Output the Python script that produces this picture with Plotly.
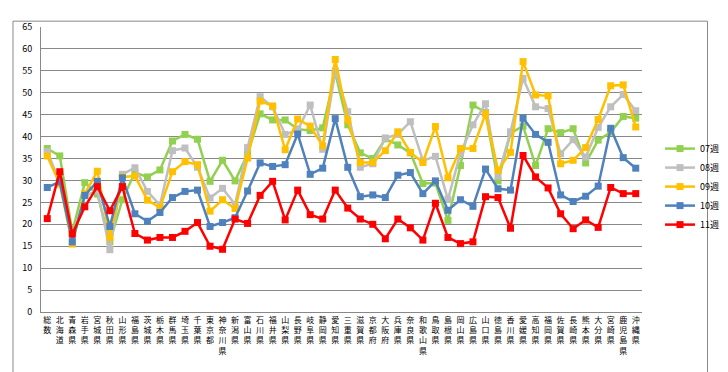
import plotly.graph_objects as go

categories = ["総数","北海道","青森県","岩手県","宮城県","秋田県","山形県","福島県","茨城県","栃木県",
              "群馬県","埼玉県","千葉県","東京都","神奈川県","新潟県","富山県","石川県","福井県","山梨県",
              "長野県","岐阜県","静岡県","愛知県","三重県","滋賀県","京都府","大阪府","兵庫県","奈良県",
              "和歌山県","鳥取県","島根県","岡山県","広島県","山口県","徳島県","香川県","愛媛県","高知県",
              "福岡県","佐賀県","長崎県","熊本県","大分県","宮崎県","鹿児島県","沖縄県"]

w07 = [37.3,35.6,18.3,29.5,26.9,16.0,25.6,31.8,30.8,32.4,39.0,40.5,39.4,29.8,34.6,29.9,36.0,45.2,43.8,43.8,
       41.7,41.4,42.0,54.5,42.7,36.3,35.0,39.5,38.1,36.3,29.3,29.4,20.9,33.4,47.2,45.5,29.9,40.8,42.4,33.4,
       41.8,40.9,41.8,34.0,39.2,41.0,44.6,44.2]
w08 = [36.6,29.5,17.0,26.5,27.7,14.2,31.4,32.9,27.5,24.4,36.8,37.4,33.0,26.0,28.2,24.5,37.5,49.1,46.8,40.5,
       41.5,47.2,37.1,55.0,45.7,33.0,33.8,39.7,40.5,43.4,34.5,35.5,25.7,36.2,42.7,47.5,31.0,41.1,53.3,46.8,
       46.4,36.1,39.3,35.3,42.1,46.8,49.6,45.9]
w09 = [35.6,29.2,15.5,27.0,32.1,17.0,30.8,31.0,25.5,23.8,32.0,34.3,33.6,23.0,25.6,23.6,35.1,48.1,47.0,37.0,
       44.0,42.4,37.9,57.6,43.8,34.1,34.1,36.8,41.1,36.4,34.1,42.3,30.6,37.3,37.3,45.2,32.3,36.4,57.1,49.5,
       49.3,33.8,34.6,37.5,43.9,51.6,51.8,42.2]
w10 = [28.4,29.7,16.0,26.6,29.8,19.5,30.6,22.4,20.7,22.7,26.1,27.5,27.8,19.5,20.4,21.5,27.6,34.0,33.2,33.6,
       40.6,31.4,32.8,44.1,33.0,26.3,26.7,26.1,31.2,31.8,27.0,29.9,23.2,25.6,24.1,32.6,28.1,27.8,44.2,40.5,
       38.7,26.7,25.2,26.4,28.7,41.9,35.2,32.8]
w11 = [21.3,32.0,17.8,24.0,28.6,23.1,28.6,17.9,16.4,17.0,17.0,18.4,20.4,15.0,14.3,21.2,20.2,26.6,29.8,21.0,
       27.8,22.2,21.2,27.8,23.7,21.2,20.0,16.7,21.2,19.2,16.4,24.8,17.0,15.6,16.0,26.3,26.1,19.1,35.7,30.8,
       28.3,22.4,19.0,21.0,19.3,28.4,27.0,27.0]

series_names = ["07週", "08週", "09週", "10週", "11週"]
series_values = [w07, w08, w09, w10, w11]
series_colors = ["#92D050", "#BFBFBF", "#FFC000", "#4F81BD", "#FF0000"]

y_ticks = list(range(0, 70, 5))
tick_text = ["<br>".join(list(c)) for c in categories]

FONT = "Noto Sans CJK JP, sans-serif"

fig = go.Figure()
for name, vals, col in zip(series_names, series_values, series_colors):
    fig.add_trace(go.Scatter(
        x=categories, y=vals, name=name, mode="lines+markers",
        line=dict(color=col, width=2.5),
        marker=dict(symbol="square", size=7, color=col),
    ))

fig.update_layout(
    width=728, height=372,
    margin=dict(l=33, r=73, t=12, b=68),
    paper_bgcolor="white", plot_bgcolor="white",
    font=dict(family=FONT, size=9, color="#000"),
    showlegend=True,
    legend=dict(x=1.03, y=0.44, xanchor="left", yanchor="middle",
                font=dict(size=9, family=FONT), tracegroupgap=0,
                itemwidth=30, bgcolor="rgba(0,0,0,0)"),
    xaxis=dict(type="category", tickvals=categories, ticktext=tick_text, tickangle=0,
               showgrid=False, showline=True, linecolor="#888", linewidth=1,
               ticks="", tickfont=dict(size=8, family=FONT), range=[-0.5, 47.5]),
    yaxis=dict(range=[0, 65], tickvals=y_ticks, showgrid=True, gridcolor="#888",
               gridwidth=1, showline=True, linecolor="#888", linewidth=1,
               ticks="", tickfont=dict(size=9, family=FONT), zeroline=False,
               ticklabelstandoff=6),
    shapes=[dict(type="rect", xref="paper", yref="paper",
                 x0=-0.0466, x1=1.109, y0=-0.2158, y1=1.0205,
                 line=dict(color="#888", width=1), fillcolor="rgba(0,0,0,0)", layer="below")],
)

fig.write_html("out.html")
